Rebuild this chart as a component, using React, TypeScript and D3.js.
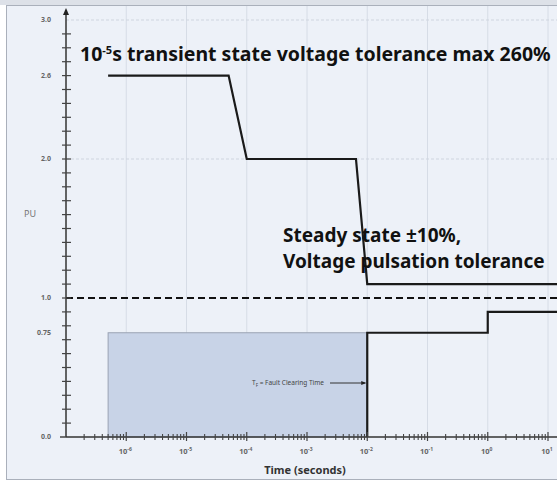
import React, { useEffect, useRef } from 'react';
import * as d3 from 'd3';

// upper tolerance envelope (time in seconds, PU)
const upperTime = [5e-7, 5e-5, 1e-4, 6.5e-3, 1e-2, 20];
const upperPU = [2.6, 2.6, 2.0, 2.0, 1.1, 1.1];

// lower tolerance envelope
const lowerTime = [1e-2, 1e-2, 1, 1, 20];
const lowerPU = [0, 0.75, 0.75, 0.9, 0.9];

// fault clearing shaded region
const faultStart = 5e-7;
const faultEnd = 1e-2;
const faultLevel = 0.75;

const nominalPU = 1.0;

const yTickValues = [3.0, 2.6, 2.0, 1.0, 0.75, 0.0];
const yTickLabels = ['3.0', '2.6', '2.0', '1.0', '0.75', '0.0'];
const xDecades = [-6, -5, -4, -3, -2, -1, 0, 1];
const xDecadeLabels = ['-6', '-5', '-4', '-3', '-2', '-1', '0', '1'];

const Chart = () => {
  const ref = useRef(null);

  useEffect(() => {
    const width = 557;
    const height = 485;

    const x = d3.scaleLog().domain([1e-7, 10]).range([66, 548]);
    const y = d3.scaleLinear().domain([0, 3]).range([437, 20]);

    const container = d3.select(ref.current);
    container.selectAll('*').remove();

    const svg = container
      .append('svg')
      .attr('width', width)
      .attr('height', height)
      .style('position', 'absolute')
      .style('left', 0)
      .style('top', 0)
      .style('font-family', '"Noto Sans", sans-serif');

    // frame
    svg.append('rect').attr('width', width).attr('height', height).attr('fill', '#ffffff');
    svg.append('rect').attr('x', 0).attr('y', 0).attr('width', width).attr('height', 5).attr('fill', '#dde1e8');
    svg.append('rect')
      .attr('x', 6.5).attr('y', 5.5)
      .attr('width', width).attr('height', 474)
      .attr('fill', '#edf1f8')
      .attr('stroke', '#aab0bb');

    // faint decade grid
    const [x0] = x.range();
    svg.append('g')
      .selectAll('line')
      .data(xDecades)
      .enter()
      .append('line')
      .attr('x1', d => x(Math.pow(10, d)))
      .attr('x2', d => x(Math.pow(10, d)))
      .attr('y1', 6)
      .attr('y2', y(0))
      .attr('stroke', '#d6dce6')
      .attr('stroke-width', 1);

    svg.append('g')
      .selectAll('line')
      .data([3.0, 2.0])
      .enter()
      .append('line')
      .attr('x1', x0)
      .attr('x2', width)
      .attr('y1', d => y(d))
      .attr('y2', d => y(d))
      .attr('stroke', '#cfd5df')
      .attr('stroke-dasharray', '3,2');

    // shaded fault clearing box
    svg.append('rect')
      .attr('x', x(faultStart))
      .attr('y', y(faultLevel))
      .attr('width', x(faultEnd) - x(faultStart))
      .attr('height', y(0) - y(faultLevel))
      .attr('fill', '#c8d3e7')
      .attr('stroke', '#9aa3b3')
      .attr('stroke-width', 1);

    // nominal dashed line
    svg.append('line')
      .attr('x1', x0)
      .attr('x2', width)
      .attr('y1', y(nominalPU))
      .attr('y2', y(nominalPU))
      .attr('stroke', '#111')
      .attr('stroke-width', 2)
      .attr('stroke-dasharray', '7,4');

    const line = d3.line<[number, number]>()
      .x(d => x(d[0]))
      .y(d => y(d[1]));

    svg.append('path')
      .datum(upperTime.map((t, i) => [t, upperPU[i]] as [number, number]))
      .attr('d', line)
      .attr('fill', 'none')
      .attr('stroke', '#1a1a1a')
      .attr('stroke-width', 2.2);

    svg.append('path')
      .datum(lowerTime.map((t, i) => [t, lowerPU[i]] as [number, number]))
      .attr('d', line)
      .attr('fill', 'none')
      .attr('stroke', '#1a1a1a')
      .attr('stroke-width', 2.2);

    // y axis with arrow
    svg.append('line')
      .attr('x1', x0).attr('x2', x0)
      .attr('y1', y(0)).attr('y2', 12)
      .attr('stroke', '#333').attr('stroke-width', 1.5);
    svg.append('path')
      .attr('d', `M${x0},8 L${x0 - 3},15 L${x0 + 3},15 Z`)
      .attr('fill', '#222');

    svg.append('g')
      .selectAll('line')
      .data(d3.range(1, 30))
      .enter()
      .append('line')
      .attr('x1', x0 - 4)
      .attr('x2', x0 + 5)
      .attr('y1', d => y(d / 10))
      .attr('y2', d => y(d / 10))
      .attr('stroke', '#444')
      .attr('stroke-width', 1.2);

    svg.append('g')
      .selectAll('text')
      .data(yTickValues)
      .enter()
      .append('text')
      .attr('x', 51)
      .attr('y', d => y(d))
      .attr('dy', '0.35em')
      .attr('text-anchor', 'end')
      .attr('font-size', 7)
      .attr('font-weight', 'bold')
      .attr('fill', '#666')
      .text((d, i) => yTickLabels[i]);

    svg.append('line')
      .attr('x1', x0 - 6).attr('x2', x0)
      .attr('y1', y(0)).attr('y2', y(0))
      .attr('stroke', '#444').attr('stroke-width', 1.5);

    svg.append('text')
      .attr('x', 30)
      .attr('y', 217)
      .attr('text-anchor', 'middle')
      .attr('font-size', 9)
      .attr('fill', '#777')
      .text('PU');

    // x axis
    svg.append('line')
      .attr('x1', x0).attr('x2', width)
      .attr('y1', y(0)).attr('y2', y(0))
      .attr('stroke', '#333').attr('stroke-width', 1.5);

    const minorTicks: number[] = [];
    d3.range(-7, 2).forEach(e => {
      d3.range(2, 10).forEach(m => minorTicks.push(m * Math.pow(10, e)));
    });
    svg.append('g')
      .selectAll('line')
      .data(minorTicks.filter(t => x(t) < width))
      .enter()
      .append('line')
      .attr('x1', d => x(d))
      .attr('x2', d => x(d))
      .attr('y1', y(0) - 3)
      .attr('y2', y(0) + 3)
      .attr('stroke', '#444')
      .attr('stroke-width', 1.1);

    svg.append('g')
      .selectAll('line')
      .data(xDecades)
      .enter()
      .append('line')
      .attr('x1', d => x(Math.pow(10, d)))
      .attr('x2', d => x(Math.pow(10, d)))
      .attr('y1', y(0) - 5)
      .attr('y2', y(0) + 4)
      .attr('stroke', '#444')
      .attr('stroke-width', 1.2);

    const xl = svg.append('g')
      .selectAll('text')
      .data(xDecades)
      .enter()
      .append('text')
      .attr('x', d => x(Math.pow(10, d)) - 1)
      .attr('y', 454)
      .attr('text-anchor', 'middle')
      .attr('font-size', 7.5)
      .attr('font-weight', 'bold')
      .attr('fill', '#666');
    xl.append('tspan').text('10');
    xl.append('tspan')
      .attr('dy', -3)
      .attr('font-size', 5)
      .text((d, i) => xDecadeLabels[i]);

    svg.append('text')
      .attr('x', 305)
      .attr('y', 474)
      .attr('text-anchor', 'middle')
      .attr('font-size', 11)
      .attr('font-weight', 'bold')
      .attr('fill', '#333')
      .text('Time (seconds)');

    // fault clearing annotation
    const ay = 383;
    svg.append('line')
      .attr('x1', 330).attr('x2', x(faultEnd) - 2)
      .attr('y1', ay).attr('y2', ay)
      .attr('stroke', '#333').attr('stroke-width', 1);
    svg.append('path')
      .attr('d', `M${x(faultEnd) - 1},${ay} L${x(faultEnd) - 6},${ay - 2} L${x(faultEnd) - 6},${ay + 2} Z`)
      .attr('fill', '#222');
    const ft = svg.append('text')
      .attr('x', 252)
      .attr('y', ay + 2)
      .attr('font-size', 6.5)
      .attr('fill', '#444');
    ft.append('tspan').text('T');
    ft.append('tspan').attr('dy', 1.5).attr('font-size', 4.5).text('F');
    ft.append('tspan').attr('dy', -1.5).text(' = Fault Clearing Time');

    // big annotations
    const title = svg.append('text')
      .attr('x', 80)
      .attr('y', 61)
      .attr('font-size', 19.5)
      .attr('font-weight', 'bold')
      .attr('fill', '#111');
    title.append('tspan').text('10');
    title.append('tspan').attr('dy', -7).attr('font-size', 11).text('-5');
    title.append('tspan').attr('dy', 7).text('s transient state voltage tolerance max 260%');

    svg.append('text')
      .attr('x', 283)
      .attr('y', 242)
      .attr('font-size', 19)
      .attr('font-weight', 'bold')
      .attr('fill', '#111')
      .text('Steady state ±10%,');
    svg.append('text')
      .attr('x', 283)
      .attr('y', 268)
      .attr('font-size', 19)
      .attr('font-weight', 'bold')
      .attr('fill', '#111')
      .text('Voltage pulsation tolerance');

    return () => {
      container.selectAll('*').remove();
    };
  }, []);

  return <div ref={ref}></div>;
};

export default function App() {
  return <Chart />;
}
